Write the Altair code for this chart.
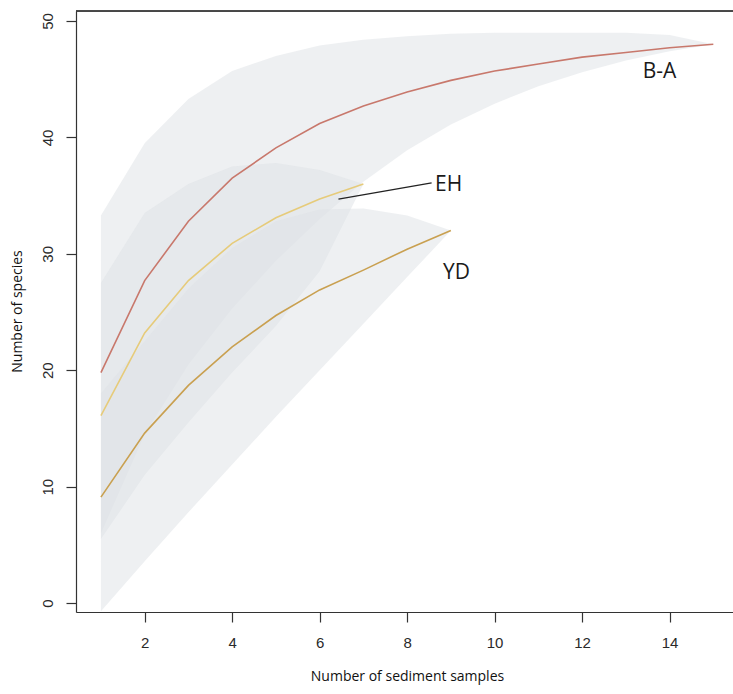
import altair as alt
import pandas as pd

# ---- data ----
GROUPS = ["B-A", "EH", "YD"]

BA_X = list(range(1, 16))
BA_MEAN = [19.8, 27.7, 32.8, 36.5, 39.1, 41.2, 42.7, 43.9, 44.9, 45.7, 46.3, 46.9, 47.3, 47.7, 48.0]
BA_LOWER = [6.0, 14.5, 20.5, 25.3, 29.4, 33.0, 36.2, 38.9, 41.1, 42.9, 44.4, 45.6, 46.6, 47.4, 48.0]
BA_UPPER = [33.3, 39.5, 43.3, 45.7, 47.0, 47.9, 48.4, 48.7, 48.9, 49.0, 49.0, 49.0, 49.0, 48.8, 48.0]

EH_X = list(range(1, 8))
EH_MEAN = [16.1, 23.2, 27.7, 30.9, 33.1, 34.7, 36.0]
EH_LOWER = [5.5, 11.0, 15.5, 19.8, 23.8, 28.5, 36.0]
EH_UPPER = [27.5, 33.5, 36.0, 37.5, 37.8, 37.2, 36.0]

YD_X = list(range(1, 10))
YD_MEAN = [9.1, 14.6, 18.7, 22.0, 24.7, 26.9, 28.6, 30.4, 32.0]
YD_LOWER = [-0.7, 3.6, 7.8, 11.9, 16.0, 20.0, 24.0, 28.0, 32.0]
YD_UPPER = [18.0, 22.5, 27.0, 30.5, 32.8, 33.8, 33.9, 33.3, 32.0]

LINE_COLORS = ["#C8786C", "#E6CB7A", "#C9A050"]

LABEL_TEXT = ["B-A", "EH", "YD"]
LABEL_X = [13.77, 8.95, 9.13]
LABEL_Y = [45.6, 35.9, 28.35]

LEADER_X = [6.43]
LEADER_X2 = [8.56]
LEADER_Y = [34.7]
LEADER_Y2 = [36.1]

X_TICKS = [2, 4, 6, 8, 10, 12, 14]
Y_TICKS = [0, 10, 20, 30, 40, 50]
X_DOMAIN = [0.43, 15.45]
Y_DOMAIN = [-0.77, 50.86]

# ---- tables ----
def table(g, xs, m, lo, up):
    return pd.DataFrame({"group": g, "x": xs, "mean": m, "lower": lo, "upper": up})

tables = {
    "B-A": table("B-A", BA_X, BA_MEAN, BA_LOWER, BA_UPPER),
    "EH": table("EH", EH_X, EH_MEAN, EH_LOWER, EH_UPPER),
    "YD": table("YD", YD_X, YD_MEAN, YD_LOWER, YD_UPPER),
}
df = pd.concat(tables.values(), ignore_index=True)

labels = pd.DataFrame({"text": LABEL_TEXT, "x": LABEL_X, "y": LABEL_Y})
leader = pd.DataFrame({"x": LEADER_X, "x2": LEADER_X2, "y": LEADER_Y, "y2": LEADER_Y2})

W, H = 657, 601

xscale = alt.Scale(domain=X_DOMAIN, nice=False, zero=False)
yscale = alt.Scale(domain=Y_DOMAIN, nice=False, zero=False)

xaxis = alt.Axis(
    values=X_TICKS, grid=False, domainColor="#333", domainWidth=1.2,
    tickColor="#333", tickSize=10, tickWidth=1.2,
    labelFont="Liberation Sans", labelFontSize=15, labelColor="#2a2a2a",
    labelPadding=20, labelBaseline="middle",
    title="Number of sediment samples", titleFont="Open Sans", titleFontSize=14,
    titleFontWeight="normal", titleColor="#111", titleX=331, titleY=64,
    titleBaseline="middle", titleAlign="center",
)
yaxis = alt.Axis(
    values=Y_TICKS, grid=False, domainColor="#333", domainWidth=1.2,
    tickColor="#333", tickSize=10, tickWidth=1.2,
    labelFont="Liberation Sans", labelFontSize=15, labelColor="#2a2a2a",
    labelAngle=270, labelAlign="center", labelBaseline="middle", labelPadding=19,
    title="Number of species", titleFont="Open Sans", titleFontSize=14,
    titleFontWeight="normal", titleColor="#111", titleAngle=270,
    titleX=-59, titleY=300, titleAlign="center", titleBaseline="middle",
)

band_layers = []
for i, g in enumerate(GROUPS):
    if i == 0:
        enc_x = alt.X("x:Q", scale=xscale, axis=xaxis)
        enc_y = alt.Y("lower:Q", scale=yscale, axis=yaxis)
    else:
        enc_x = alt.X("x:Q", scale=xscale)
        enc_y = alt.Y("lower:Q", scale=yscale)
    band_layers.append(
        alt.Chart(tables[g]).mark_area(
            fill="#DDE1E5", fillOpacity=0.5, clip=True, interpolate="linear"
        ).encode(x=enc_x, y=enc_y, y2=alt.Y2("upper:Q"))
    )

lines = alt.Chart(df).mark_line(strokeWidth=1.6, clip=True).encode(
    x=alt.X("x:Q", scale=xscale),
    y=alt.Y("mean:Q", scale=yscale),
    color=alt.Color("group:N", scale=alt.Scale(domain=GROUPS, range=LINE_COLORS), legend=None),
)

lead = alt.Chart(leader).mark_rule(color="#222", strokeWidth=1.3).encode(
    x=alt.X("x:Q", scale=xscale), x2="x2:Q",
    y=alt.Y("y:Q", scale=yscale), y2="y2:Q",
)

text = alt.Chart(labels).mark_text(
    font="Open Sans", fontSize=21, color="#1a1a1a", align="center", baseline="middle"
).encode(
    x=alt.X("x:Q", scale=xscale),
    y=alt.Y("y:Q", scale=yscale),
    text="text:N",
)

topline = alt.Chart(labels).mark_rule(color="#333", strokeWidth=1.2).encode(
    x=alt.value(0), x2=alt.value(W), y=alt.value(0)
)

chart = alt.layer(*band_layers, lines, lead, text, topline).properties(
    width=W, height=H,
    autosize=alt.AutoSizeParams(type="none"),
    padding={"left": 76, "top": 11, "right": 0, "bottom": 82},
).configure_view(stroke=None).configure(background="white")

chart.save("out.html", embed_options={"renderer": "svg", "actions": False})
